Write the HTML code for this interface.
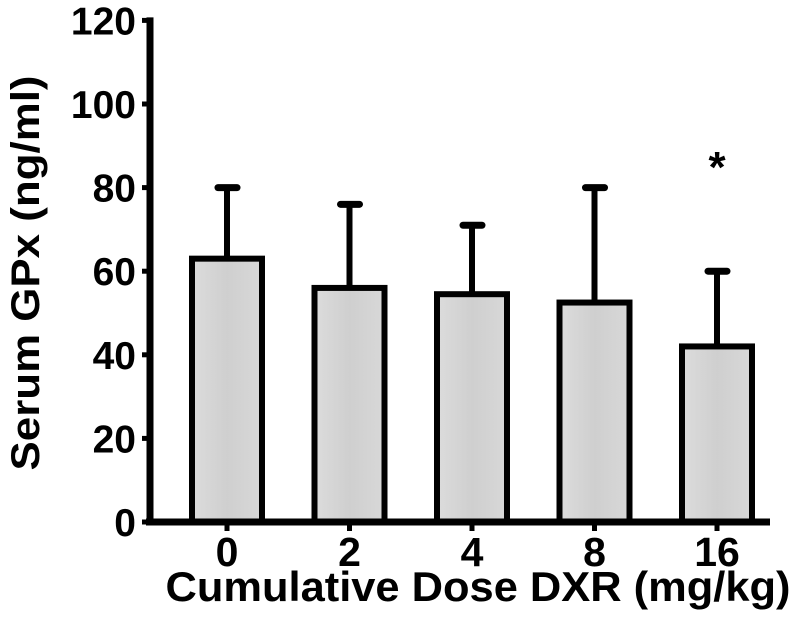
<!DOCTYPE html>
<html><head><meta charset="utf-8"><style>
html,body{margin:0;padding:0;background:#fff;}
svg{display:block;font-family:"Liberation Sans",Arial,sans-serif;font-weight:bold;}
</style></head><body>
<svg id="chart" width="806" height="633" viewBox="0 0 806 633">
<defs>
<linearGradient id="barfill" x1="0" x2="1" y1="0" y2="0">
<stop offset="0" stop-color="#dcdcdc"/><stop offset="0.5" stop-color="#cfcfcf"/><stop offset="1" stop-color="#d8d8d8"/>
</linearGradient>
</defs>
<g id="bars"></g>
<g id="axes"></g>
<text x="0" y="0" transform="translate(39,273) rotate(-90)" text-anchor="middle" font-size="40" textLength="395" lengthAdjust="spacingAndGlyphs">Serum GPx (ng/ml)</text>
<text x="478" y="601" text-anchor="middle" font-size="42" textLength="625" lengthAdjust="spacingAndGlyphs">Cumulative Dose DXR (mg/kg)</text>
</svg>
<script>
const categories = ["0","2","4","8","16"];
const means = [63, 56, 54.5, 52.5, 42];
const upperErrors = [80, 76, 71, 80, 60];
const significant = [false, false, false, false, true];
const yTicks = [0, 20, 40, 60, 80, 100, 120];

const NS = "http://www.w3.org/2000/svg";
const y0 = 522, pxPerUnit = 4.18;
function yScale(v){ return y0 - v * pxPerUnit; }
function xScale(i){ return 227 + i * 122.5; }
function mk(tag, attrs, parent){
  const e = document.createElementNS(NS, tag);
  for (const k in attrs) e.setAttribute(k, attrs[k]);
  parent.appendChild(e); return e;
}
const bars = document.getElementById("bars");
const axes = document.getElementById("axes");
const bw = 70;
categories.forEach((c, i) => {
  const cx = xScale(i);
  const err = mk("line", {x1: cx, x2: cx, y1: yScale(means[i]), y2: yScale(upperErrors[i]), stroke: "#000", "stroke-width": 6}, bars);
  
  
  const cap = mk("line", {x1: cx - 9, x2: cx + 10, y1: yScale(upperErrors[i]), y2: yScale(upperErrors[i]), stroke: "#000", "stroke-width": 7, "stroke-linecap": "round"}, bars);
  
  
  const r = mk("rect", {x: cx - bw/2, y: yScale(means[i]), width: bw, height: y0 - yScale(means[i]), fill: "url(#barfill)", stroke: "#000", "stroke-width": 6}, bars);
  
  
  const t = mk("text", {x: cx, y: 566, "text-anchor": "middle", "font-size": 41}, axes);
  t.textContent = c;
  
  
  const tk = mk("line", {x1: cx, x2: cx, y1: y0, y2: 531, stroke: "#000", "stroke-width": 5}, axes);
  
  
  if (significant[i]) {
    const s = mk("text", {x: cx, y: 182, "text-anchor": "middle", "font-size": 44}, bars);
    s.textContent = "*";
    
    
  }
});
const yAxis = mk("line", {x1: 150, x2: 150, y1: yScale(120) - 3, y2: y0 + 3, stroke: "#000", "stroke-width": 7}, axes);


const xAxis = mk("line", {x1: 146, x2: 770, y1: y0, y2: y0, stroke: "#000", "stroke-width": 7}, axes);


yTicks.forEach(v => {
  const tk = mk("line", {x1: 142, x2: 150, y1: yScale(v), y2: yScale(v), stroke: "#000", "stroke-width": 5}, axes);
  
  
  const t = mk("text", {x: 136, y: yScale(v) + 14, "text-anchor": "end", "font-size": 39}, axes);
  t.textContent = v;
  
  
});
</script>
</body></html>
